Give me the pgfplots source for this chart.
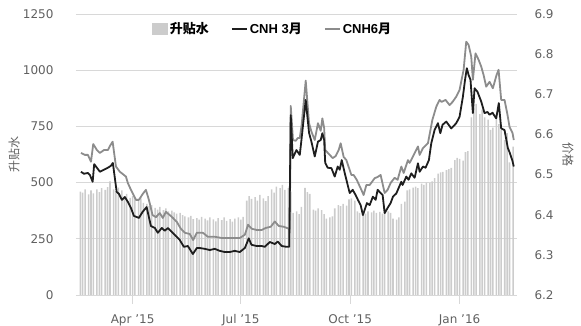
\documentclass[border=0pt]{standalone}
\usepackage{fontspec}
\setmainfont{DejaVu Sans}
\newfontfamily\cjk{Noto Sans CJK SC}
\newfontfamily\lat{Liberation Sans}
\usepackage{pgfplots}
\pgfplotsset{compat=1.18}
\definecolor{barc}{HTML}{CCCCCC}
\definecolor{gridc}{HTML}{D8D8D8}
\definecolor{ticktxt}{HTML}{606060}
\definecolor{lthree}{HTML}{1E1E1E}
\definecolor{lsix}{HTML}{8C8C8C}
\begin{document}
\begin{tikzpicture}
\useasboundingbox (0,0) rectangle (581pt,326pt);
\begin{axis}[
  at={(76pt,31pt)}, anchor=south west,
  scale only axis, width=441pt, height=281pt,
  xmin=42.4, xmax=413.3, ymin=0, ymax=1250,
  ytick={0,250,500,750,1000,1250},
  xtick={90,181,273,365},
  xticklabels={Apr '15,Jul '15,Oct '15,Jan '16},
  axis line style={draw=none},
  ymajorgrids, grid style={draw=gridc, line width=0.8pt},
  tick align=outside, xtick pos=left, ytick pos=left,
  ytick style={draw=none},
  xtick style={draw=gridc, line width=0.8pt},
  major tick length=9pt,
  /pgf/number format/assume math mode=true,
  /pgf/number format/1000 sep={},
  ticklabel style={font=\fontsize{12}{14}\selectfont, text=ticktxt},
  yticklabel style={xshift=-10pt},
  xticklabel style={yshift=-7pt},
  ylabel={\cjk 升贴水},
  ylabel style={at={(axis description cs:-0.1406,0.5)}, anchor=center, font=\fontsize{12}{14}\selectfont, text=ticktxt},
  clip=true,
]
\addplot[ybar, bar width=1.3, fill=barc, draw=none] coordinates {
(46,460)(48,455)(50,470)
(53,448)(55,465)(57,452)
(60,470)(62,458)(64,475)
(67,468)(69,480)(71,505)
(74,470)(76,462)(78,478)
(81,465)(83,440)(85,450)
(88,432)(90,440)(92,425)
(95,420)(97,430)(99,410)
(102,405)(104,395)(106,400)
(109,388)(111,380)(113,392)
(116,378)(118,385)(120,372)
(123,375)(125,368)(127,362)
(130,365)(132,355)(134,350)
(137,345)(139,352)(141,338)
(144,342)(146,335)(148,348)
(151,340)(153,332)(155,345)
(158,336)(160,328)(162,342)
(165,333)(167,345)(169,330)
(172,338)(174,326)(176,340)
(179,345)(181,335)(183,348)
(186,420)(188,440)(190,428)
(193,435)(195,420)(197,445)
(200,430)(202,418)(204,440)
(207,470)(209,455)(211,482)
(214,475)(216,490)(218,468)
(221,475)(223,460)(225,365)
(228,372)(230,360)(232,392)
(235,476)(237,458)(239,450)
(242,380)(244,375)(246,385)
(249,378)(251,360)(253,340)
(256,345)(258,350)(260,385)
(263,400)(265,395)(267,405)
(270,398)(272,425)(274,430)
(277,420)(279,372)(281,365)
(284,370)(286,362)(288,372)
(291,368)(293,375)(295,365)
(298,370)(300,362)(302,368)
(305,372)(307,365)(309,340)
(312,335)(314,345)(316,405)
(319,415)(321,465)(323,470)
(326,478)(328,482)(330,475)
(333,495)(335,490)(337,500)
(340,498)(342,505)(344,520)
(347,540)(349,545)(351,548)
(354,555)(356,560)(358,565)
(361,600)(363,610)(365,605)
(368,598)(370,635)(372,640)
(375,790)(377,835)(379,850)
(382,805)(384,825)(386,790)
(389,780)(391,735)(393,745)
(396,790)(398,760)(400,735)
(403,690)(405,720)(407,590)
(410,660)
};
\end{axis}
\begin{axis}[
  at={(76pt,31pt)}, anchor=south west,
  scale only axis, width=441pt, height=281pt,
  xmin=42.4, xmax=413.3, ymin=6.2, ymax=6.9,
  ytick={6.2,6.3,6.4,6.5,6.6,6.7,6.8,6.9},
  hide x axis,
  axis line style={draw=none},
  ytick pos=right, yticklabel pos=right,
  ytick style={draw=none},
  /pgf/number format/assume math mode=true,
  /pgf/number format/fixed, /pgf/number format/precision=1,
  /pgf/number format/fixed zerofill,
  ticklabel style={font=\fontsize{12}{14}\selectfont, text=ticktxt},
  yticklabel style={xshift=14pt},
  ylabel={\cjk 价格},
  ylabel style={at={(axis description cs:1.1156,0.5)}, anchor=center, rotate=180, font=\fontsize{12}{14}\selectfont, text=ticktxt},
  legend style={at={(axis description cs:0.166,0.947)}, anchor=west, draw=none, fill=none,
    legend columns=3, font=\fontsize{13}{15}\selectfont\bfseries,
    /tikz/every even column/.append style={column sep=20pt}},
  legend cell align=left,
]
\addlegendimage{legend image code/.code={\fill[barc] (0pt,-5.5pt) rectangle (15pt,5.5pt);}}
\addlegendentry{\cjk 升贴水}
\addlegendimage{legend image code/.code={\draw[lthree, line width=2pt] (0pt,0pt) -- (15pt,0pt);}}
\addlegendentry{\lat CNH 3\cjk 月}
\addlegendimage{legend image code/.code={\draw[lsix, line width=2pt] (0pt,0pt) -- (15pt,0pt);}}
\addlegendentry{\lat CNH6\cjk 月}
\addplot[lsix, line width=1.8pt, line join=round, forget plot] coordinates {
(46.6,6.554)(49.9,6.549)(52.4,6.549)(55.0,6.532)(56.9,6.576)(60.0,6.561)(62.5,6.554)(65.9,6.561)(69.2,6.561)(70.9,6.571)(73.2,6.582)(76.0,6.520)(79.3,6.507)(82.7,6.499)(84.4,6.495)(86.0,6.479)(88.6,6.462)(92.8,6.437)(95.3,6.437)(98.6,6.452)(101.2,6.462)(103.7,6.437)(106.8,6.399)(109.6,6.394)(112.9,6.404)(115.4,6.392)(118.0,6.407)(121.3,6.399)(123.9,6.392)(127.2,6.382)(130.6,6.365)(133.9,6.355)(138.1,6.352)(140.9,6.337)(144.0,6.355)(149.1,6.355)(153.3,6.345)(159.1,6.345)(165.0,6.342)(171.7,6.342)(180.1,6.342)(184.4,6.350)(187.1,6.375)(190.2,6.365)(194.4,6.362)(198.6,6.362)(202.0,6.367)(206.2,6.370)(209.6,6.383)(212.9,6.372)(217.1,6.370)(220.7,6.366)(222.2,6.365)(223.0,6.671)(224.9,6.586)(227.2,6.584)(228.9,6.591)(230.6,6.591)(232.2,6.624)(235.6,6.734)(238.4,6.628)(240.4,6.607)(243.2,6.586)(245.9,6.628)(248.2,6.609)(249.6,6.640)(251.1,6.616)(252.0,6.561)(255.8,6.549)(258.3,6.541)(260.8,6.546)(263.3,6.561)(265.0,6.578)(267.5,6.544)(269.8,6.536)(274.0,6.499)(275.9,6.499)(278.5,6.487)(282.4,6.462)(284.3,6.449)(286.6,6.474)(289.4,6.474)(293.6,6.491)(296.1,6.494)(298.6,6.499)(302.0,6.454)(304.5,6.462)(307.0,6.479)(310.4,6.492)(312.9,6.487)(316.0,6.520)(318.0,6.504)(321.6,6.536)(323.0,6.529)(325.8,6.545)(330.0,6.570)(331.4,6.549)(334.2,6.566)(338.4,6.578)(342.1,6.636)(345.4,6.669)(348.2,6.686)(349.9,6.681)(353.2,6.686)(356.6,6.673)(359.1,6.681)(362.2,6.694)(365.0,6.711)(368.4,6.761)(370.6,6.831)(372.6,6.823)(374.8,6.794)(376.2,6.736)(378.4,6.802)(381.0,6.786)(383.2,6.769)(385.2,6.748)(387.4,6.719)(390.2,6.731)(393.0,6.715)(396.1,6.748)(397.8,6.761)(400.0,6.686)(402.8,6.686)(405.3,6.649)(407.0,6.619)(409.5,6.604)(410.6,6.586)
};
\addplot[lthree, line width=1.8pt, line join=round, forget plot] coordinates {
(46.6,6.507)(49.1,6.502)(52.4,6.504)(54.1,6.499)(56.4,6.482)(57.7,6.526)(60.0,6.517)(62.5,6.507)(65.9,6.512)(69.2,6.517)(71.8,6.522)(73.4,6.529)(76.6,6.457)(78.5,6.452)(81.0,6.437)(83.5,6.444)(86.0,6.432)(88.6,6.417)(91.1,6.397)(95.3,6.392)(98.4,6.407)(101.8,6.419)(105.4,6.372)(108.7,6.367)(111.2,6.355)(114.6,6.367)(117.1,6.360)(119.7,6.367)(123.0,6.357)(126.4,6.347)(129.7,6.337)(133.1,6.320)(136.5,6.322)(140.7,6.302)(144.0,6.317)(146.5,6.317)(150.7,6.315)(154.9,6.312)(159.1,6.315)(163.3,6.310)(167.5,6.307)(171.7,6.307)(175.9,6.310)(180.1,6.307)(184.4,6.317)(187.7,6.341)(190.0,6.325)(194.4,6.322)(198.6,6.322)(201.2,6.320)(205.4,6.332)(209.6,6.327)(212.1,6.333)(215.4,6.322)(219.6,6.320)(221.7,6.320)(223.0,6.648)(224.7,6.541)(227.8,6.561)(230.6,6.549)(232.0,6.586)(235.6,6.686)(238.4,6.604)(240.4,6.582)(243.2,6.545)(245.9,6.582)(248.2,6.586)(249.6,6.603)(251.1,6.586)(252.0,6.529)(254.1,6.517)(257.2,6.516)(260.0,6.495)(262.5,6.520)(264.2,6.512)(265.9,6.536)(268.4,6.504)(270.9,6.474)(272.6,6.454)(275.1,6.462)(277.6,6.449)(279.5,6.437)(281.8,6.424)(283.7,6.399)(287.1,6.429)(289.4,6.424)(292.1,6.445)(294.4,6.437)(296.1,6.462)(298.6,6.454)(300.3,6.449)(302.0,6.404)(304.5,6.417)(307.0,6.429)(309.0,6.445)(311.8,6.453)(316.0,6.482)(317.1,6.474)(320.2,6.495)(322.1,6.487)(324.4,6.503)(327.2,6.492)(330.0,6.528)(331.4,6.507)(334.2,6.520)(336.4,6.517)(339.2,6.536)(341.2,6.578)(344.0,6.611)(346.8,6.628)(348.8,6.603)(350.7,6.624)(353.8,6.632)(355.8,6.624)(358.0,6.615)(360.0,6.621)(362.2,6.628)(365.0,6.644)(367.8,6.694)(369.6,6.736)(371.1,6.765)(372.6,6.748)(374.2,6.736)(376.2,6.653)(377.6,6.715)(380.1,6.706)(383.2,6.682)(386.0,6.653)(388.5,6.656)(390.2,6.649)(392.7,6.654)(395.8,6.640)(398.0,6.678)(400.0,6.615)(402.8,6.611)(405.6,6.566)(407.0,6.556)(409.3,6.536)(410.6,6.520)
};
\end{axis}
\end{tikzpicture}
\end{document}
